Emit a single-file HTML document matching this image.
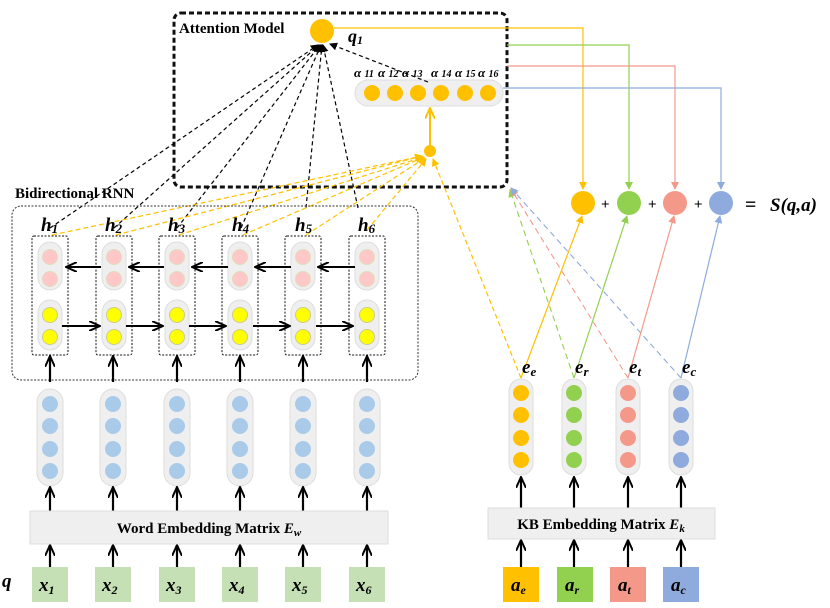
<!DOCTYPE html>
<html><head><meta charset="utf-8"><style>
body{margin:0;background:#fff}
svg{display:block}
text{font-family:"Liberation Serif",serif;font-weight:bold}
</style></head><body>
<svg width="830" height="608" viewBox="0 0 830 608" xmlns="http://www.w3.org/2000/svg">
<defs>
<marker id="ab" markerWidth="8" markerHeight="8" refX="7" refY="4" orient="auto" markerUnits="userSpaceOnUse"><path d="M0,0 L8,4 L0,8 z" fill="#000"/></marker>
<marker id="ao" markerWidth="8" markerHeight="8" refX="7" refY="4" orient="auto" markerUnits="userSpaceOnUse"><path d="M0,0 L8,4 L0,8 z" fill="#ffc000"/></marker>
<marker id="ag" markerWidth="8" markerHeight="8" refX="7" refY="4" orient="auto" markerUnits="userSpaceOnUse"><path d="M0,0 L8,4 L0,8 z" fill="#92d050"/></marker>
<marker id="ar" markerWidth="8" markerHeight="8" refX="7" refY="4" orient="auto" markerUnits="userSpaceOnUse"><path d="M0,0 L8,4 L0,8 z" fill="#f4998a"/></marker>
<marker id="abl" markerWidth="8" markerHeight="8" refX="7" refY="4" orient="auto" markerUnits="userSpaceOnUse"><path d="M0,0 L8,4 L0,8 z" fill="#8faadc"/></marker>
<marker id="op" markerWidth="12" markerHeight="10" refX="11" refY="5" orient="auto" markerUnits="userSpaceOnUse"><path d="M0,0 L11,5 L0,10" fill="none" stroke="#000" stroke-width="2"/></marker>
<marker id="opo" markerWidth="12" markerHeight="10" refX="11" refY="5" orient="auto" markerUnits="userSpaceOnUse"><path d="M0,0 L11,5 L0,10" fill="none" stroke="#ffc000" stroke-width="2"/></marker>
</defs>

<rect x="174" y="13" width="333" height="174" rx="7" fill="none" stroke="#111" stroke-width="3" stroke-dasharray="5,3"/>
<text x="179" y="33" font-size="15">Attention Model</text>
<circle cx="322" cy="31" r="12" fill="#ffc000"/>
<text x="348" y="42" font-size="18" font-style="italic">q<tspan font-size="12" dy="2">1</tspan></text>
<rect x="355" y="80" width="148" height="26" rx="13" fill="#efefef" stroke="#ddd"/>
<g fill="#ffc000">
<circle cx="372" cy="93" r="8"/><circle cx="395" cy="93" r="8"/><circle cx="418" cy="93" r="8"/><circle cx="441" cy="93" r="8"/><circle cx="465" cy="93" r="8"/><circle cx="488" cy="93" r="8"/>
</g>
<g font-size="13" font-style="italic" font-weight="normal">
<text x="354" y="77">α <tspan font-size="10">11</tspan></text>
<text x="378" y="77">α <tspan font-size="10">12</tspan></text>
<text x="402" y="77">α <tspan font-size="10">13</tspan></text>
<text x="431" y="77">α <tspan font-size="10">14</tspan></text>
<text x="455" y="77">α <tspan font-size="10">15</tspan></text>
<text x="478" y="77">α <tspan font-size="10">16</tspan></text>
</g>
<circle cx="430" cy="151" r="6" fill="#ffc000"/>
<line x1="430" y1="145" x2="430" y2="108" stroke="#ffc000" stroke-width="2" marker-end="url(#opo)"/>

<g stroke="#000" stroke-width="1.2" stroke-dasharray="4,3" fill="none" marker-end="url(#ab)">
<line x1="50" y1="228" x2="318" y2="45"/>
<line x1="114" y1="228" x2="319" y2="45"/>
<line x1="177" y1="228" x2="320" y2="45"/>
<line x1="241" y1="228" x2="321" y2="45"/>
<line x1="306" y1="208" x2="322" y2="45"/>
<line x1="358" y1="208" x2="323" y2="45"/>
<line x1="428" y1="82" x2="330" y2="44"/>
</g>
<g stroke="#ffc000" stroke-width="1.2" stroke-dasharray="5,3" fill="none" marker-end="url(#ao)">
<line x1="52" y1="235" x2="422" y2="156"/>
<line x1="116" y1="235" x2="422" y2="156"/>
<line x1="179" y1="235" x2="423" y2="157"/>
<line x1="243" y1="235" x2="424" y2="157"/>
<line x1="306" y1="235" x2="425" y2="158"/>
<line x1="367" y1="230" x2="426" y2="159"/>
<line x1="521" y1="378" x2="433" y2="159"/>
</g>

<rect x="12" y="206" width="406" height="174" rx="9" fill="none" stroke="#333" stroke-width="1" stroke-dasharray="2,1.5"/>
<text x="15" y="198" font-size="15">Bidirectional RNN</text>
<g font-size="19" font-style="italic">
<text x="41" y="231">h<tspan font-size="13" dy="2">1</tspan></text>
<text x="105" y="231">h<tspan font-size="13" dy="2">2</tspan></text>
<text x="168" y="231">h<tspan font-size="13" dy="2">3</tspan></text>
<text x="232" y="231">h<tspan font-size="13" dy="2">4</tspan></text>
<text x="295" y="231">h<tspan font-size="13" dy="2">5</tspan></text>
<text x="358" y="231">h<tspan font-size="13" dy="2">6</tspan></text>
</g>

<g>
<g transform="translate(50,0)">
<rect x="-18" y="236" width="36" height="119" rx="2" fill="none" stroke="#111" stroke-dasharray="2,1.5"/>
<rect x="-12" y="242" width="24" height="48" rx="12" fill="#efefef" stroke="#ddd"/>
<circle cx="0" cy="257" r="7.5" fill="#ffc7c7" stroke="#ddb"/><circle cx="0" cy="279" r="7.5" fill="#ffc7c7" stroke="#ddb"/>
<rect x="-12" y="300" width="24" height="50" rx="12" fill="#efefef" stroke="#ddd"/>
<circle cx="0" cy="315" r="7.5" fill="#ffff00" stroke="#cc8"/><circle cx="0" cy="337" r="7.5" fill="#ffff00" stroke="#cc8"/>
</g>
<g transform="translate(114,0)">
<rect x="-18" y="236" width="36" height="119" rx="2" fill="none" stroke="#111" stroke-dasharray="2,1.5"/>
<rect x="-12" y="242" width="24" height="48" rx="12" fill="#efefef" stroke="#ddd"/>
<circle cx="0" cy="257" r="7.5" fill="#ffc7c7" stroke="#ddb"/><circle cx="0" cy="279" r="7.5" fill="#ffc7c7" stroke="#ddb"/>
<rect x="-12" y="300" width="24" height="50" rx="12" fill="#efefef" stroke="#ddd"/>
<circle cx="0" cy="315" r="7.5" fill="#ffff00" stroke="#cc8"/><circle cx="0" cy="337" r="7.5" fill="#ffff00" stroke="#cc8"/>
</g>
<g transform="translate(177,0)">
<rect x="-18" y="236" width="36" height="119" rx="2" fill="none" stroke="#111" stroke-dasharray="2,1.5"/>
<rect x="-12" y="242" width="24" height="48" rx="12" fill="#efefef" stroke="#ddd"/>
<circle cx="0" cy="257" r="7.5" fill="#ffc7c7" stroke="#ddb"/><circle cx="0" cy="279" r="7.5" fill="#ffc7c7" stroke="#ddb"/>
<rect x="-12" y="300" width="24" height="50" rx="12" fill="#efefef" stroke="#ddd"/>
<circle cx="0" cy="315" r="7.5" fill="#ffff00" stroke="#cc8"/><circle cx="0" cy="337" r="7.5" fill="#ffff00" stroke="#cc8"/>
</g>
<g transform="translate(240,0)">
<rect x="-18" y="236" width="36" height="119" rx="2" fill="none" stroke="#111" stroke-dasharray="2,1.5"/>
<rect x="-12" y="242" width="24" height="48" rx="12" fill="#efefef" stroke="#ddd"/>
<circle cx="0" cy="257" r="7.5" fill="#ffc7c7" stroke="#ddb"/><circle cx="0" cy="279" r="7.5" fill="#ffc7c7" stroke="#ddb"/>
<rect x="-12" y="300" width="24" height="50" rx="12" fill="#efefef" stroke="#ddd"/>
<circle cx="0" cy="315" r="7.5" fill="#ffff00" stroke="#cc8"/><circle cx="0" cy="337" r="7.5" fill="#ffff00" stroke="#cc8"/>
</g>
<g transform="translate(303,0)">
<rect x="-18" y="236" width="36" height="119" rx="2" fill="none" stroke="#111" stroke-dasharray="2,1.5"/>
<rect x="-12" y="242" width="24" height="48" rx="12" fill="#efefef" stroke="#ddd"/>
<circle cx="0" cy="257" r="7.5" fill="#ffc7c7" stroke="#ddb"/><circle cx="0" cy="279" r="7.5" fill="#ffc7c7" stroke="#ddb"/>
<rect x="-12" y="300" width="24" height="50" rx="12" fill="#efefef" stroke="#ddd"/>
<circle cx="0" cy="315" r="7.5" fill="#ffff00" stroke="#cc8"/><circle cx="0" cy="337" r="7.5" fill="#ffff00" stroke="#cc8"/>
</g>
<g transform="translate(367,0)">
<rect x="-18" y="236" width="36" height="119" rx="2" fill="none" stroke="#111" stroke-dasharray="2,1.5"/>
<rect x="-12" y="242" width="24" height="48" rx="12" fill="#efefef" stroke="#ddd"/>
<circle cx="0" cy="257" r="7.5" fill="#ffc7c7" stroke="#ddb"/><circle cx="0" cy="279" r="7.5" fill="#ffc7c7" stroke="#ddb"/>
<rect x="-12" y="300" width="24" height="50" rx="12" fill="#efefef" stroke="#ddd"/>
<circle cx="0" cy="315" r="7.5" fill="#ffff00" stroke="#cc8"/><circle cx="0" cy="337" r="7.5" fill="#ffff00" stroke="#cc8"/>
</g>
</g>
<g stroke="#000" stroke-width="2" fill="none" marker-end="url(#op)">
<line x1="101" y1="267" x2="66" y2="267"/><line x1="164" y1="267" x2="129" y2="267"/><line x1="228" y1="267" x2="192" y2="267"/><line x1="291" y1="267" x2="255" y2="267"/><line x1="355" y1="267" x2="318" y2="267"/>
<line x1="62" y1="326" x2="100" y2="326"/><line x1="126" y1="326" x2="163" y2="326"/><line x1="189" y1="326" x2="226" y2="326"/><line x1="253" y1="326" x2="290" y2="326"/><line x1="316" y1="326" x2="353" y2="326"/>
</g>

<g>
<g transform="translate(50,0)"><rect x="-13" y="389" width="26" height="97" rx="13" fill="#efefef" stroke="#ddd"/><g fill="#a9cbe9"><circle cy="404" r="8"/><circle cy="426" r="8"/><circle cy="449" r="8"/><circle cy="471" r="8"/></g></g>
<g transform="translate(113,0)"><rect x="-13" y="389" width="26" height="97" rx="13" fill="#efefef" stroke="#ddd"/><g fill="#a9cbe9"><circle cy="404" r="8"/><circle cy="426" r="8"/><circle cy="449" r="8"/><circle cy="471" r="8"/></g></g>
<g transform="translate(177,0)"><rect x="-13" y="389" width="26" height="97" rx="13" fill="#efefef" stroke="#ddd"/><g fill="#a9cbe9"><circle cy="404" r="8"/><circle cy="426" r="8"/><circle cy="449" r="8"/><circle cy="471" r="8"/></g></g>
<g transform="translate(240,0)"><rect x="-13" y="389" width="26" height="97" rx="13" fill="#efefef" stroke="#ddd"/><g fill="#a9cbe9"><circle cy="404" r="8"/><circle cy="426" r="8"/><circle cy="449" r="8"/><circle cy="471" r="8"/></g></g>
<g transform="translate(303,0)"><rect x="-13" y="389" width="26" height="97" rx="13" fill="#efefef" stroke="#ddd"/><g fill="#a9cbe9"><circle cy="404" r="8"/><circle cy="426" r="8"/><circle cy="449" r="8"/><circle cy="471" r="8"/></g></g>
<g transform="translate(367,0)"><rect x="-13" y="389" width="26" height="97" rx="13" fill="#efefef" stroke="#ddd"/><g fill="#a9cbe9"><circle cy="404" r="8"/><circle cy="426" r="8"/><circle cy="449" r="8"/><circle cy="471" r="8"/></g></g>
</g>
<g stroke="#000" stroke-width="2.2" fill="none" marker-end="url(#op)">
<line x1="50" y1="382" x2="50" y2="356"/><line x1="113" y1="382" x2="113" y2="356"/><line x1="177" y1="382" x2="177" y2="356"/><line x1="240" y1="382" x2="240" y2="356"/><line x1="303" y1="382" x2="303" y2="356"/><line x1="367" y1="382" x2="367" y2="356"/>
<line x1="50" y1="511" x2="50" y2="487"/><line x1="113" y1="511" x2="113" y2="487"/><line x1="177" y1="511" x2="177" y2="487"/><line x1="240" y1="511" x2="240" y2="487"/><line x1="303" y1="511" x2="303" y2="487"/><line x1="367" y1="511" x2="367" y2="487"/>
<line x1="50" y1="567" x2="50" y2="545"/><line x1="113" y1="567" x2="113" y2="545"/><line x1="177" y1="567" x2="177" y2="545"/><line x1="240" y1="567" x2="240" y2="545"/><line x1="303" y1="567" x2="303" y2="545"/><line x1="367" y1="567" x2="367" y2="545"/>
</g>
<rect x="30" y="511" width="358" height="33" fill="#efefef" stroke="#ddd"/>
<text x="209" y="533" font-size="15" text-anchor="middle">Word Embedding Matrix <tspan font-style="italic">E<tspan font-size="11" dy="3">w</tspan></tspan></text>
<text x="2" y="587" font-size="19" font-style="italic">q</text>
<g fill="#c5e0b4">
<rect x="32" y="567" width="36" height="35"/><rect x="95" y="567" width="36" height="35"/><rect x="159" y="567" width="36" height="35"/><rect x="222" y="567" width="36" height="35"/><rect x="285" y="567" width="36" height="35"/><rect x="349" y="567" width="36" height="35"/>
</g>
<g font-size="19" font-style="italic">
<text x="39" y="591">x<tspan font-size="12" dy="3">1</tspan></text>
<text x="102" y="591">x<tspan font-size="12" dy="3">2</tspan></text>
<text x="166" y="591">x<tspan font-size="12" dy="3">3</tspan></text>
<text x="229" y="591">x<tspan font-size="12" dy="3">4</tspan></text>
<text x="292" y="591">x<tspan font-size="12" dy="3">5</tspan></text>
<text x="356" y="591">x<tspan font-size="12" dy="3">6</tspan></text>
</g>

<g fill="none" stroke-width="1.2">
<polyline points="334,28 583,28 583,189" stroke="#ffc000" marker-end="url(#ao)"/>
<polyline points="507,45 629,45 629,189" stroke="#92d050" marker-end="url(#ag)"/>
<polyline points="507,66 675,66 675,189" stroke="#f4998a" marker-end="url(#ar)"/>
<polyline points="503,88 721,88 721,189" stroke="#8faadc" marker-end="url(#abl)"/>
</g>
<circle cx="583" cy="203" r="12" fill="#ffc000"/>
<circle cx="629" cy="203" r="12" fill="#92d050"/>
<circle cx="675" cy="203" r="12" fill="#f4998a"/>
<circle cx="721" cy="203" r="12" fill="#8faadc"/>
<g font-family="Liberation Sans" font-size="15" font-weight="bold">
<text x="601" y="209">+</text><text x="648" y="209">+</text><text x="694" y="209">+</text>
</g>
<text x="745" y="211" font-size="20">=</text>
<text x="770" y="211" font-size="19" font-style="italic">S(q,a)</text>

<g fill="none" stroke-width="1.1" stroke-dasharray="6,4">
<line x1="574" y1="378" x2="510" y2="190" stroke="#92d050" marker-end="url(#ag)"/>
<line x1="628" y1="378" x2="511" y2="189" stroke="#f4998a" marker-end="url(#ar)"/>
<line x1="681" y1="378" x2="511" y2="188" stroke="#8faadc" marker-end="url(#abl)"/>
</g>
<g fill="none" stroke-width="1.2">
<line x1="521" y1="378" x2="582" y2="216" stroke="#ffc000" marker-end="url(#ao)"/>
<line x1="574" y1="378" x2="627" y2="216" stroke="#92d050" marker-end="url(#ag)"/>
<line x1="628" y1="378" x2="674" y2="216" stroke="#f4998a" marker-end="url(#ar)"/>
<line x1="681" y1="378" x2="720" y2="216" stroke="#8faadc" marker-end="url(#abl)"/>
</g>
<g font-size="19" font-style="italic">
<text x="522" y="373">e<tspan font-size="13" dy="3">e</tspan></text>
<text x="575" y="373">e<tspan font-size="13" dy="3">r</tspan></text>
<text x="629" y="373">e<tspan font-size="13" dy="3">t</tspan></text>
<text x="682" y="373">e<tspan font-size="13" dy="3">c</tspan></text>
</g>
<g transform="translate(521,0)"><rect x="-12" y="379" width="24" height="96" rx="12" fill="#efefef" stroke="#ddd"/><g fill="#ffc000"><circle cy="393" r="8"/><circle cy="415" r="8"/><circle cy="438" r="8"/><circle cy="460" r="8"/></g></g>
<g transform="translate(574,0)"><rect x="-12" y="379" width="24" height="96" rx="12" fill="#efefef" stroke="#ddd"/><g fill="#92d050"><circle cy="393" r="8"/><circle cy="415" r="8"/><circle cy="438" r="8"/><circle cy="460" r="8"/></g></g>
<g transform="translate(628,0)"><rect x="-12" y="379" width="24" height="96" rx="12" fill="#efefef" stroke="#ddd"/><g fill="#f4998a"><circle cy="393" r="8"/><circle cy="415" r="8"/><circle cy="438" r="8"/><circle cy="460" r="8"/></g></g>
<g transform="translate(681,0)"><rect x="-12" y="379" width="24" height="96" rx="12" fill="#efefef" stroke="#ddd"/><g fill="#8faadc"><circle cy="393" r="8"/><circle cy="415" r="8"/><circle cy="438" r="8"/><circle cy="460" r="8"/></g></g>
<g stroke="#000" stroke-width="2.2" fill="none" marker-end="url(#op)">
<line x1="521" y1="508" x2="521" y2="477"/><line x1="574" y1="508" x2="574" y2="477"/><line x1="628" y1="508" x2="628" y2="477"/><line x1="681" y1="508" x2="681" y2="477"/>
<line x1="521" y1="567" x2="521" y2="540"/><line x1="574" y1="567" x2="574" y2="540"/><line x1="628" y1="567" x2="628" y2="540"/><line x1="681" y1="567" x2="681" y2="540"/>
</g>
<rect x="488" y="508" width="227" height="31" fill="#efefef" stroke="#ddd"/>
<text x="601" y="529" font-size="15" text-anchor="middle">KB Embedding Matrix <tspan font-style="italic">E<tspan font-size="11" dy="3">k</tspan></tspan></text>
<rect x="503" y="567" width="36" height="35" fill="#ffc000"/>
<rect x="557" y="567" width="36" height="35" fill="#92d050"/>
<rect x="610" y="567" width="36" height="35" fill="#f4998a"/>
<rect x="663" y="567" width="36" height="35" fill="#8faadc"/>
<g font-size="19" font-style="italic">
<text x="511" y="591">a<tspan font-size="12" dy="3">e</tspan></text>
<text x="565" y="591">a<tspan font-size="12" dy="3">r</tspan></text>
<text x="618" y="591">a<tspan font-size="12" dy="3">t</tspan></text>
<text x="671" y="591">a<tspan font-size="12" dy="3">c</tspan></text>
</g>
</svg>
</body></html>
